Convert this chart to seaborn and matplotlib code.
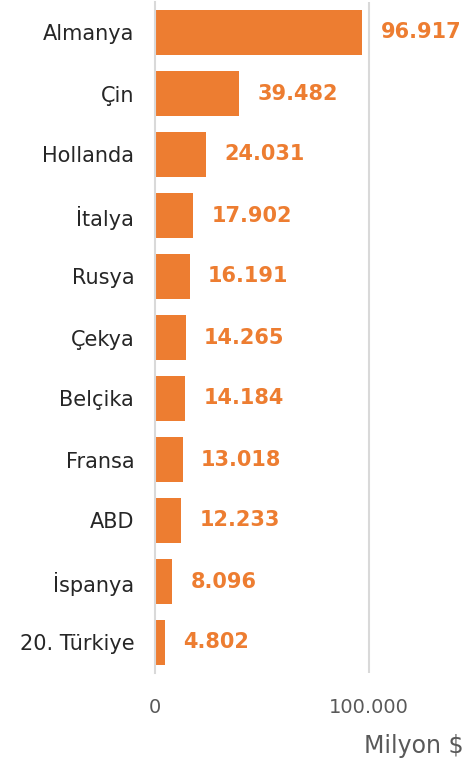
import pandas as pd
import seaborn as sns
import matplotlib.pyplot as plt

countries = ["Almanya", "Çin", "Hollanda", "İtalya", "Rusya", "Çekya",
             "Belçika", "Fransa", "ABD", "İspanya", "20. Türkiye"]
values = [96917, 39482, 24031, 17902, 16191, 14265, 14184, 13018, 12233, 8096, 4802]

df = pd.DataFrame({"country": countries, "value": values})

sns.set_style("white")
plt.rcParams["font.family"] = ["DejaVu Sans"]

orange = "#ED7D31"
fig = plt.figure(figsize=(4.64, 7.62), dpi=100)
ax = fig.add_axes([155 / 464, 89 / 762, 1 - 155 / 464, 671 / 762])

sns.barplot(data=df, x="value", y="country", orient="h", color=orange,
            width=0.75, saturation=1, linewidth=0, ax=ax)

for i, v in enumerate(values):
    ax.annotate(f"{v:,}".replace(",", "."), xy=(v, i), xytext=(13, 0),
                textcoords="offset points", va="center", ha="left",
                fontsize=15, fontweight="bold", color=orange)

ax.set_xlim(0, 144400)
ax.set_ylim(10.5, -0.5)
ax.set_xticks([0, 100000])
ax.set_xticklabels(["0", "100.000"], color="#595959", fontsize=14)
ax.tick_params(axis="x", length=0, pad=18)
ax.tick_params(axis="y", length=0, pad=15, labelsize=15, labelcolor="#262626")
ax.set_xlabel("")
ax.set_ylabel("")
ax.axvline(100000, color="#d9d9d9", lw=1.5, zorder=0)
for s in ["top", "right", "bottom"]:
    ax.spines[s].set_visible(False)
ax.spines["left"].set_color("#d9d9d9")
ax.spines["left"].set_linewidth(1.5)

fig.text(364 / 464, (762 - 746) / 762, "Milyon $", fontsize=17,
         color="#595959", va="center", ha="left")

fig.savefig("out.png", dpi=100)
